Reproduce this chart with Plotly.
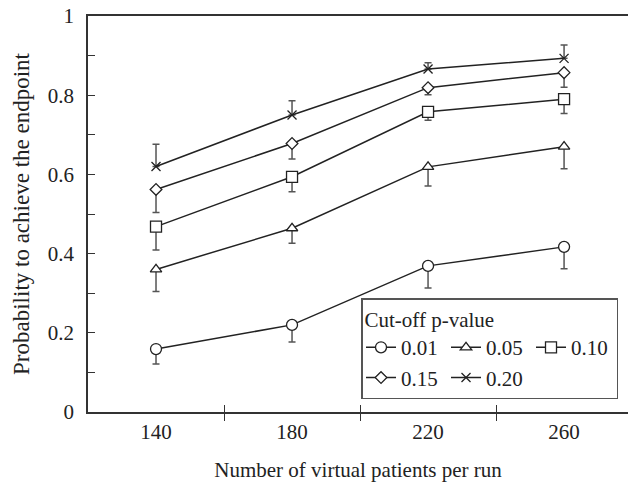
import plotly.graph_objects as go

patients = [140, 180, 220, 260]
cutoffs = ["0.01", "0.05", "0.10", "0.15", "0.20"]

p001 = [0.159, 0.220, 0.369, 0.417]
p005 = [0.360, 0.464, 0.619, 0.670]
p010 = [0.468, 0.594, 0.758, 0.790]
p015 = [0.562, 0.678, 0.819, 0.857]
p020 = [0.620, 0.750, 0.866, 0.893]

# error bar lengths (downward for first four series, upward for 0.20)
e001 = [0.038, 0.043, 0.056, 0.055]
e005 = [0.056, 0.038, 0.048, 0.056]
e010 = [0.059, 0.038, 0.021, 0.036]
e015 = [0.058, 0.039, 0.018, 0.037]
e020 = [0.056, 0.036, 0.016, 0.034]

series = [
    (cutoffs[0], p001, e001, "circle", 11, "g1", "minus"),
    (cutoffs[1], p005, e005, "triangle-up", 10, "g2", "minus"),
    (cutoffs[2], p010, e010, "square", 11, "g3", "minus"),
    (cutoffs[3], p015, e015, "diamond", 9, "g1", "minus"),
    (cutoffs[4], p020, e020, "x-thin", 9, "g2", "plus"),
]

DARK = "#222222"
GRAY = "#555555"
FONT = "Liberation Serif"

fig = go.Figure()
for name, vals, errs, sym, size, grp, direction in series:
    err = dict(type="data", symmetric=False, color=GRAY, thickness=1.5, width=3.5)
    if direction == "minus":
        err["array"] = [0] * len(errs)
        err["arrayminus"] = errs
    else:
        err["array"] = errs
        err["arrayminus"] = [0] * len(errs)
    fig.add_trace(go.Scatter(
        x=patients, y=vals, name=name, legendgroup=grp,
        mode="lines+markers",
        line=dict(color=DARK, width=1.5),
        marker=dict(symbol=sym, size=size, color="white",
                    line=dict(color=DARK, width=1.3)),
        error_y=err,
    ))

# invisible trace for overlay axis (crossing tick marks)
fig.add_trace(go.Scatter(x=[patients[0]], y=[0], xaxis="x2", mode="markers",
                         marker=dict(opacity=0), showlegend=False, hoverinfo="skip"))

xr = [120, 278.8]
fig.update_layout(
    width=628, height=497,
    margin=dict(l=88, r=0, t=16, b=85),
    plot_bgcolor="white", paper_bgcolor="white",
    font=dict(family=FONT, size=21, color=DARK),
    xaxis=dict(
        range=xr, tickvals=patients, ticktext=[str(p) for p in patients],
        ticks="", showgrid=False, zeroline=False,
        showline=True, linecolor="#333333", linewidth=1.6, mirror=True,
        tickfont=dict(size=21),
        minor=dict(tickmode="array", tickvals=[160, 200, 240], ticks="outside",
                   ticklen=7, tickwidth=1.4, tickcolor="#333333", showgrid=False),
        title=dict(text="Number of virtual patients per run", font=dict(size=21), standoff=19),
    ),
    xaxis2=dict(
        range=xr, overlaying="x", anchor="y", side="bottom",
        tickvals=[160, 200, 240], ticks="inside", ticklen=7, tickwidth=1.4,
        tickcolor="#333333", showticklabels=False, showgrid=False,
        zeroline=False, showline=False,
    ),
    yaxis=dict(
        range=[0, 1], dtick=0.2, tick0=0, ticks="inside", ticklen=7, tickwidth=1.4,
        tickcolor="#333333", showgrid=False, zeroline=False,
        showline=True, linecolor="#333333", linewidth=1.6,
        ticklabelstandoff=8, tickfont=dict(size=21),
        minor=dict(dtick=0.1, ticks="inside", ticklen=7, tickwidth=1.4,
                   tickcolor="#333333", showgrid=False),
        title=dict(text="Probability to achieve the endpoint", font=dict(size=23), standoff=12),
    ),
    legend=dict(
        orientation="h", x=0.9815, xanchor="right", y=0.032, yanchor="bottom",
        bordercolor=GRAY, borderwidth=1.5, bgcolor="white",
        font=dict(family=FONT, size=21, color=DARK),
        title=dict(text="Cut-off p-value", side="top", font=dict(size=21)),
        entrywidth=40, itemwidth=30,
    ),
    showlegend=True,
)

fig.write_html("out.html")
